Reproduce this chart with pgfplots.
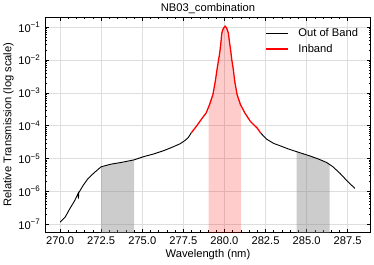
\documentclass[border=0pt]{standalone}
\usepackage{fontspec}
\setmainfont{Liberation Sans}
\usepackage{pgfplots}
\pgfplotsset{compat=1.18}
\newcommand{\fs}{\fontsize{11.2}{13}\selectfont}
\newcommand{\ep}[1]{10\raisebox{4.3bp}{\fontsize{8}{8}\selectfont #1}}
\definecolor{gridc}{RGB}{222,222,222}
\begin{document}
\fs
\begin{tikzpicture}[font=\fs]
\path[use as bounding box] (-45.3bp,-33bp) rectangle (328.7bp,232bp);
\begin{axis}[
  at={(0,0)}, anchor=south west,
  scale only axis, width=325.4bp, height=214.7bp,
  xmin=269.1, xmax=288.9,
  ymode=log, ymin=5.8e-8, ymax=0.2,
  xtick={270,272.5,275,277.5,280,282.5,285,287.5},
  xticklabels={270.0,272.5,275.0,277.5,280.0,282.5,285.0,287.5},
  minor x tick num=4,
  ytick={1e-7,1e-6,1e-5,1e-4,1e-3,1e-2,1e-1},
  yticklabels={\ep{−7},\ep{−6},\ep{−5},\ep{−4},\ep{−3},\ep{−2},\ep{−1}},
  xtick pos=both, ytick pos=both, tick align=inside,
  major tick length=3.5bp, minor tick length=2bp,
  every tick/.style={line width=0.5bp, black},
  axis line style={line width=0.8bp},
  grid=major, major grid style={gridc, line width=0.6bp},
  xticklabel style={anchor=north, inner sep=0pt, yshift=-4.2bp, font=\fs},
  yticklabel style={anchor=east, inner sep=0pt, xshift=-5.3bp, font=\fs},
  title={NB03\_combination},
  title style={at={(axis description cs:0.5,1)}, anchor=base, yshift=-0.4bp, inner sep=0pt, font=\fs},
  xlabel={Wavelength (nm)},
  xlabel style={at={(axis description cs:0.5,0)}, anchor=base, yshift=-25.7bp, inner sep=0pt, font=\fs},
  ylabel={Relative Transmission (log scale)},
  ylabel style={at={(axis description cs:0,0.5)}, anchor=base, inner sep=0pt, yshift=34bp, font=\fs},
  legend cell align=left,
  legend image code/.code={\draw[#1] (0bp,0bp) -- (22bp,0bp);},
  legend style={draw=none, fill=none, inner sep=0pt, row sep=6bp, column sep=10bp,
    nodes={inner sep=0pt}, font=\fs,
    at={(axis description cs:0.675,0.95)}, anchor=north west},
]
% shaded bands
\addplot[draw=none, fill=gray, fill opacity=0.4, forget plot] coordinates {
(272.5,1e-8) (272.5,5.62e-6) (273.1,6.76e-6) (273.7,7.59e-6) (274.5,9.12e-6) (274.5,1e-8)} -- cycle;
\addplot[draw=none, fill=gray, fill opacity=0.4, forget plot] coordinates {
(284.4,1e-8) (284.4,1.622e-5) (285.2,1.202e-5) (285.7,9.77e-6) (286.22,7.59e-6) (286.4,6.6e-6) (286.4,1e-8)} -- cycle;
\addplot[draw=none, fill=red, fill opacity=0.2, forget plot] coordinates {
(279.04,1e-8) (279.04,3.63e-4) (279.10,4.47e-4) (279.30,8.91e-4) (279.44,2.19e-3) (279.56,5.62e-3)
(279.64,1.0e-2) (279.71,1.585e-2) (279.78,3.16e-2) (279.84,6.61e-2) (279.94,9.33e-2)
(280.04,1.07e-1) (280.14,9.33e-2) (280.24,6.61e-2) (280.32,3.16e-2) (280.39,1.778e-2)
(280.45,1.0e-2) (280.53,5.62e-3) (280.63,2.19e-3) (280.77,8.91e-4) (280.97,4.47e-4)
(281.02,3.98e-4) (281.02,1e-8)} -- cycle;
% out of band (left)
\addplot[black, line width=0.9bp] coordinates {
(270.0,1.148e-7) (270.3,1.622e-7) (270.6,3.02e-7) (270.9,5.37e-7) (271.1,8.71e-7)
(271.12,6.0e-7) (271.13,9.0e-7)
(271.4,1.514e-6) (271.7,2.455e-6) (272.1,3.80e-6) (272.5,5.62e-6) (273.1,6.76e-6)
(273.7,7.59e-6) (274.5,9.12e-6) (275.1,1.148e-5) (275.7,1.380e-5) (276.3,1.738e-5)
(276.8,2.188e-5) (277.3,2.818e-5) (277.6,3.548e-5) (277.8,4.37e-5) (277.98,6.03e-5)};
\addlegendentry{Out of Band}
% inband
\addplot[red, line width=1.3bp] coordinates {
(277.98,6.03e-5) (278.29,9.55e-5) (278.59,1.549e-4) (278.89,2.455e-4) (279.10,4.47e-4)
(279.30,8.91e-4) (279.44,2.19e-3) (279.56,5.62e-3) (279.64,1.0e-2) (279.71,1.585e-2)
(279.78,3.16e-2) (279.84,6.61e-2) (279.94,9.33e-2) (280.04,1.07e-1) (280.14,9.33e-2)
(280.24,6.61e-2) (280.32,3.16e-2) (280.39,1.778e-2) (280.45,1.0e-2) (280.53,5.62e-3)
(280.63,2.19e-3) (280.77,8.91e-4) (280.97,4.47e-4) (281.24,2.455e-4) (281.58,1.349e-4)
(281.99,8.51e-5) (282.2,6.03e-5)};
\addlegendentry{Inband}
% out of band (right)
\addplot[black, line width=0.9bp, forget plot] coordinates {
(282.2,6.03e-5) (282.57,3.89e-5) (283.0,2.88e-5) (283.38,2.455e-5)
(283.9,1.95e-5) (284.39,1.622e-5) (285.2,1.202e-5) (285.7,9.77e-6) (286.22,7.59e-6)
(286.6,5.62e-6) (287.03,3.55e-6) (287.5,2.0e-6) (287.94,1.23e-6)};
\end{axis}
\end{tikzpicture}
\end{document}
